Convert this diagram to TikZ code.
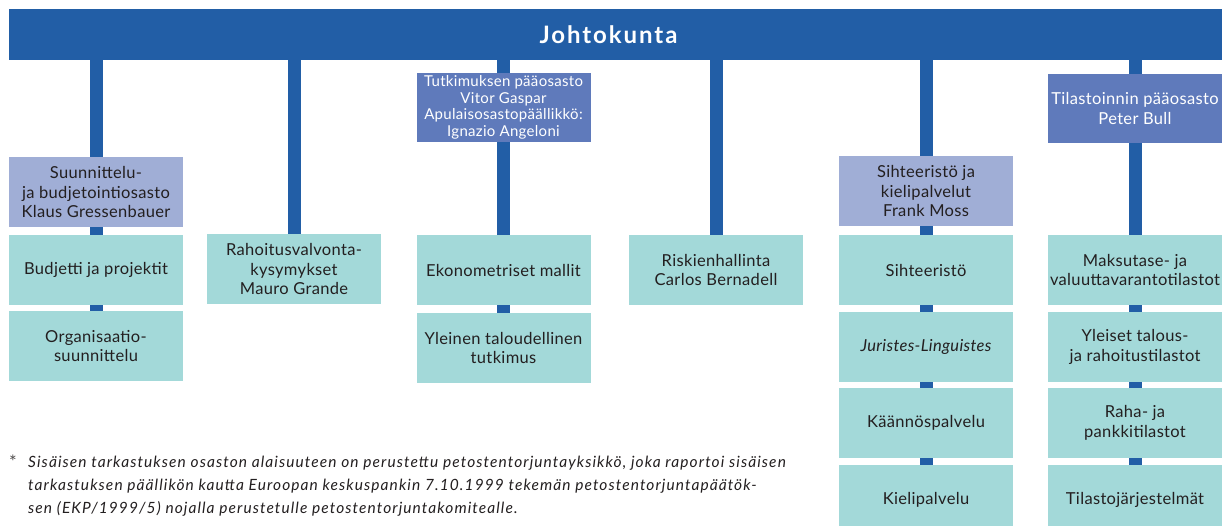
\documentclass[tikz,border=0pt]{standalone}
\usepackage{fontspec}
\setmainfont{Lato}
\newfontfamily\boxfont[LetterSpace=2]{Lato}
\newfontfamily\notefont[LetterSpace=7]{Lato}
\newfontfamily\headfont[LetterSpace=8]{Lato}
\usetikzlibrary{backgrounds}
\definecolor{hdr}{HTML}{225EA6}
\definecolor{lp}{HTML}{A0AED6}
\definecolor{dp}{HTML}{5F7ABB}
\definecolor{tl}{HTML}{A3D9D9}
\definecolor{txt}{HTML}{231F20}
\begin{document}
\begin{tikzpicture}[x=1pt,y=-1pt,
  box/.style={minimum width=174pt, minimum height=70pt, inner sep=0pt, align=center,
    font=\boxfont\fontsize{16.5}{19.5}\selectfont, text=txt},
  tealbox/.style={box, fill=tl},
  lpbox/.style={box, fill=lp},
  dpbox/.style={box, fill=dp, text=white, minimum height=69pt},
  stem/.style={draw=hdr, line width=13pt}]
\clip (0,0) rectangle (1222,526);
\node[fill=hdr, minimum width=1213pt, minimum height=51pt, inner sep=0pt, text=white,
  font=\headfont\fontsize{24}{28}\selectfont\bfseries] (head) at (615.5,34.5) {\hspace*{-14pt}Johtokunta};
% column 1
\node[lpbox] (s1) at (96,192) {Suunnittelu-\\ja budjetointiosasto\\Klaus Gressenbauer};
\node[tealbox] (b1) at (96,270) {Budjetti ja projektit};
\node[tealbox] (o1) at (96,346) {Organisaatio-\\suunnittelu};
% column 2
\node[tealbox] (r2) at (294,269) {Rahoitusvalvonta-\\kysymykset\\Mauro Grande};
% column 3
\node[dpbox, font=\boxfont\fontsize{15}{16.5}\selectfont] (t3) at (503.5,107.5)
  {Tutkimuksen pääosasto\\Vitor Gaspar\\Apulaisosastopäällikkö:\\Ignazio Angeloni};
\node[tealbox] (e3) at (503.5,270) {Ekonometriset mallit};
\node[tealbox] (y3) at (503.5,348) {Yleinen taloudellinen\\tutkimus};
% column 4
\node[tealbox] (k4) at (716,270) {Riskienhallinta\\Carlos Bernadell};
% column 5
\node[lpbox] (h5) at (926,191) {Sihteeristö ja\\kielipalvelut\\Frank Moss};
\node[tealbox] (s5) at (926,270) {Sihteeristö};
\node[tealbox] (j5) at (926,347) {\itshape Juristes-Linguistes};
\node[tealbox] (q5) at (926,423) {Käännöspalvelu};
\node[tealbox] (l5) at (926,500) {Kielipalvelu};
% column 6
\node[dpbox, font=\boxfont\fontsize{16.5}{20}\selectfont] (t6) at (1135,108.5) {Tilastoinnin pääosasto\\Peter Bull};
\node[tealbox] (m6) at (1135,270) {Maksutase- ja\\valuuttavarantotilastot};
\node[tealbox] (y6) at (1135,347) {Yleiset talous-\\ja rahoitustilastot};
\node[tealbox] (r6) at (1135,423) {Raha- ja\\pankkitilastot};
\node[tealbox] (l6) at (1135,500) {Tilastojärjestelmät};
% stems
\begin{pgfonlayer}{background}
\fill[white] (0,0) rectangle (1222,526);
\draw[stem] (head.south -| o1.north) -- (o1.north);
\draw[stem] (head.south -| r2.north) -- (r2.north);
\draw[stem] (head.south -| y3.north) -- (y3.north);
\draw[stem] (head.south -| k4.north) -- (k4.north);
\draw[stem] (head.south -| l5.north) -- (l5.north);
\draw[stem] (head.south -| l6.north) -- (l6.north);
\end{pgfonlayer}
% footnote
\node[anchor=center, text=txt!80, font=\fontsize{18}{18}\selectfont, inner sep=0pt] (ast) at (13,462) {*};
\node[anchor=west, align=left, text=txt, inner sep=0pt,
  font=\notefont\fontsize{15.5}{23}\selectfont\itshape] (note) at (28,486)
  {Sisäisen tarkastuksen osaston alaisuuteen on perustettu petostentorjuntayksikkö, joka raportoi sisäisen\\
   tarkastuksen päällikön kautta Euroopan keskuspankin 7.10.1999 tekemän petostentorjuntapäätök-\\
   sen (EKP/1999/5) nojalla perustetulle petostentorjuntakomitealle.};
\end{tikzpicture}
\end{document}
